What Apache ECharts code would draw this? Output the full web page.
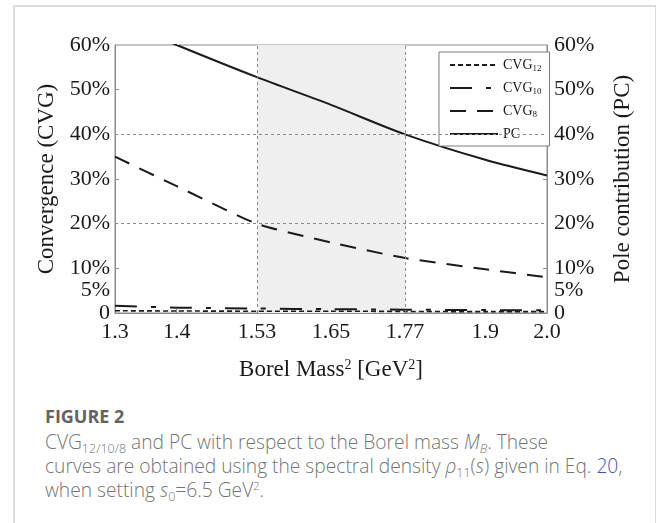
<!DOCTYPE html>
<html>
<head>
<meta charset="utf-8">
<script src="https://cdn.jsdelivr.net/npm/echarts@6/dist/echarts.min.js"></script>
<style>
  html, body { margin: 0; padding: 0; background: #fff; width: 656px; height: 523px; overflow: hidden; }
  #card { position: absolute; left: 13px; top: 5px; width: 640px; height: 540px;
          border-left: 2px solid #dcdcdc; border-top: 2px solid #dcdcdc; border-right: 2px solid #dcdcdc; }
  #chart { position: absolute; left: 0; top: 0; width: 656px; height: 400px; }
  #cap { position: absolute; left: 45px; top: 403px; width: 608px; font-family: "Open Sans", sans-serif; color: #747474; white-space: nowrap; }
  #cap .fig { font-weight: 700; font-size: 18px; color: #626262; line-height: 27px; }
  #cap p { margin: 0; font-size: 19.2px; line-height: 24px; font-weight: 300; }
  #cap sub { font-size: 12.5px; vertical-align: -4px; line-height: 0; }
  #cap sup { font-size: 11px; vertical-align: 7px; line-height: 0; }
  #cap .lk { color: #5050ad; }
</style>
</head>
<body>
<div id="card"></div>
<div id="chart"></div>
<div id="cap">
  <div class="fig">FIGURE 2</div>
  <p>CVG<sub>12/10/8</sub> and PC with respect to the Borel mass <i>M<sub>B</sub></i>. These<br>curves are obtained using the spectral density <i>ρ</i><sub>11</sub>(<i>s</i>) given in Eq. <span class="lk">20</span>,<br>when setting <i>s</i><sub>0</sub>=6.5 GeV<sup>2</sup>.</p>
</div>
<script>
// ---- data ----
const xValues   = [1.3, 1.4, 1.53, 1.65, 1.77, 1.9, 2.0];
const cvg12     = [0.5, 0.45, 0.4, 0.4, 0.35, 0.3, 0.3];
const cvg10     = [1.6, 1.2, 1.0, 0.85, 0.75, 0.65, 0.6];
const cvg8      = [35.0, 28.4, 20.0, 15.8, 12.3, 9.8, 8.0];
const pc        = [65.8, 60.0, 52.8, 46.6, 40.0, 34.3, 30.8];
const xTicks      = [1.3, 1.4, 1.53, 1.65, 1.77, 1.9, 2.0];
const xTickLabels = ['1.3', '1.4', '1.53', '1.65', '1.77', '1.9', '2.0'];
const yTicks      = [0, 5, 10, 20, 30, 40, 50, 60];
const bandRange   = [1.53, 1.77];
const refY        = [20, 40];

const pairs = arr => xValues.map((x, i) => [x, arr[i]]);
const serif = '"Liberation Serif", "DejaVu Serif", serif';
const ink = '#1a1a1a';
const frame = '#8c8c8c';

const chart = echarts.init(document.getElementById('chart'));

const yAxisBase = (pos, name, gap) => ({
  type: 'value', position: pos, min: 0, max: 60, interval: 5,
  name: name, nameLocation: 'middle', nameGap: gap,
  nameTextStyle: { fontFamily: serif, fontSize: 23, color: ink },
  axisLine: { show: true, lineStyle: { color: frame, width: 1 } },
  axisTick: { show: true, inside: true, length: 4, customValues: [10, 30, 50], lineStyle: { color: frame } },
  axisLabel: {
    customValues: yTicks, fontFamily: serif, fontSize: 22, color: ink, margin: pos === 'left' ? 5 : 7,
    formatter: v => v === 0 ? '0' : v + '%'
  },
  splitLine: { show: false }
});

chart.setOption({
  animation: false,
  grid: { left: 115, right: 109, top: 45, bottom: 87, show: true, borderColor: frame, borderWidth: 1, outerBoundsMode: 'none', containLabel: false },
  legend: {
    orient: 'vertical', left: 439, top: 52,
    padding: [6, 8, 5, 10], itemGap: 8, itemWidth: 48, itemHeight: 14,
    backgroundColor: '#fff', borderColor: '#7a7a7a', borderWidth: 1,
    itemStyle: { color: 'rgba(0,0,0,0)', borderWidth: 0, opacity: 0 },
    lineStyle: { width: 2 },
    data: ['CVG12', 'CVG10', 'CVG8', 'PC'],
    formatter: n => n === 'PC' ? 'PC' : 'CVG{s|' + n.slice(3) + '}',
    textStyle: { fontFamily: serif, fontSize: 14, color: ink,
      rich: { s: { fontFamily: serif, fontSize: 9, color: ink, padding: [7, 0, 0, 0] } } }
  },
  xAxis: {
    type: 'value', min: 1.3, max: 2.0,
    name: 'Borel Mass{sup|2} [GeV{sup|2}]', nameLocation: 'middle', nameGap: 45,
    nameTextStyle: { fontFamily: serif, fontSize: 23, color: ink,
      rich: { sup: { fontFamily: serif, fontSize: 14, color: ink, padding: [0, 0, 10, 0] } } },
    axisLine: { show: true, lineStyle: { color: frame } },
    axisTick: { show: true, inside: true, length: 4, customValues: [1.4, 1.65, 1.9], lineStyle: { color: frame } },
    axisLabel: {
      customValues: xTicks, fontFamily: serif, fontSize: 22, color: ink, margin: 8,
      formatter: v => { const i = xTicks.findIndex(t => Math.abs(t - v) < 1e-6); return i >= 0 ? xTickLabels[i] : ''; }
    },
    splitLine: { show: false }
  },
  yAxis: [
    yAxisBase('left', 'Convergence (CVG)', 57),
    yAxisBase('right', 'Pole contribution (PC)', 64)
  ],
  series: [
    {
      name: 'CVG12', type: 'line', data: pairs(cvg12), symbol: 'none', smooth: 0.2,
      lineStyle: { color: ink, width: 1.6, type: [5, 3] }, itemStyle: { color: ink }, z: 3,
      markArea: {
        silent: true, itemStyle: { color: '#efefef' },
        data: [[{ xAxis: bandRange[0] }, { xAxis: bandRange[1] }]]
      },
      markLine: {
        silent: true, symbol: 'none', label: { show: false },
        lineStyle: { color: '#8a8a8a', type: [3, 3], width: 1 },
        data: [
          { xAxis: bandRange[0] }, { xAxis: bandRange[1] },
          { yAxis: refY[0] }, { yAxis: refY[1] }
        ]
      }
    },
    {
      name: 'CVG10', type: 'line', data: pairs(cvg10), symbol: 'none', smooth: 0.2,
      lineStyle: { color: ink, width: 2, type: [22, 14, 5, 14] }, itemStyle: { color: ink }, z: 3
    },
    {
      name: 'CVG8', type: 'line', data: pairs(cvg8), symbol: 'none', smooth: 0.2,
      lineStyle: { color: ink, width: 2, type: [16, 11] }, itemStyle: { color: ink }, z: 3
    },
    {
      name: 'PC', type: 'line', yAxisIndex: 1, data: pairs(pc), symbol: 'none', smooth: 0.3,
      lineStyle: { color: ink, width: 2, type: 'solid' }, itemStyle: { color: ink }, z: 3
    }
  ]
});
</script>
</body>
</html>
